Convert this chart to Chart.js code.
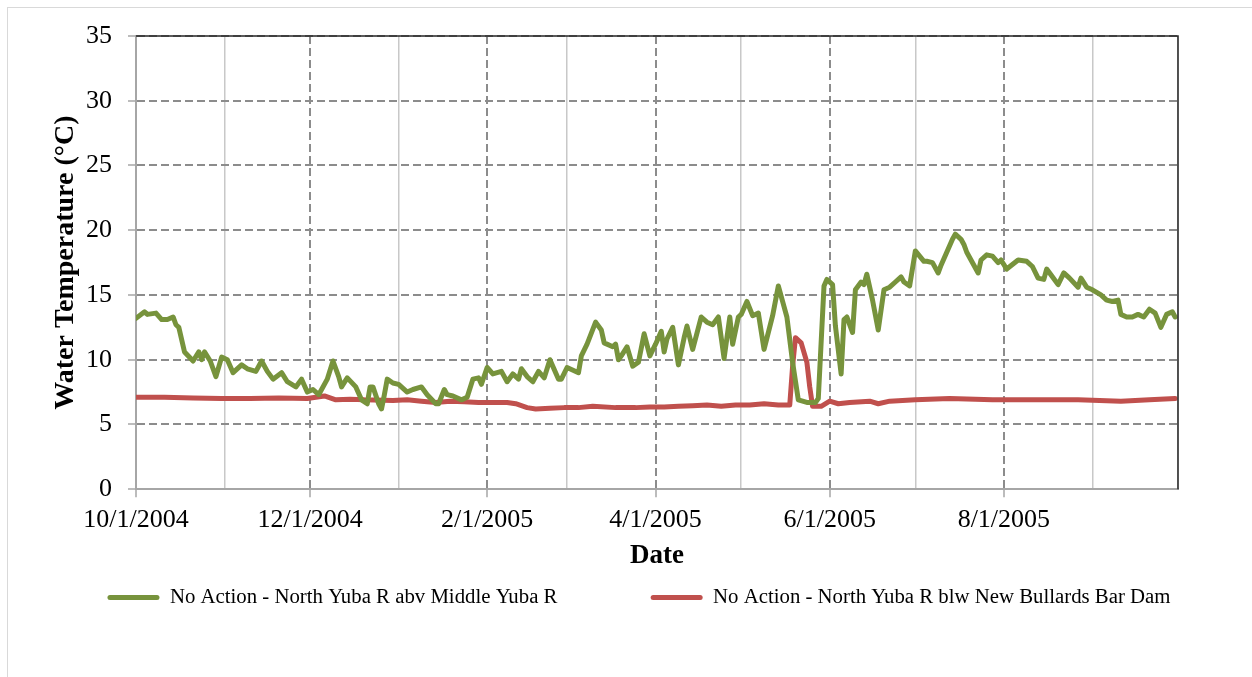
<!DOCTYPE html>
<html>
<head>
<meta charset="utf-8">
<title>Water Temperature</title>
<script src="https://cdn.jsdelivr.net/npm/chart.js@4.4.0/dist/chart.umd.min.js"></script>
<style>
    html, body { margin: 0; padding: 0; background: #fff; overflow: hidden; }
    #frame { position: absolute; left: 7px; top: 7px; width: 1300px; height: 720px; border: 1px solid #d9d9d9; }
    #tempChart { position: absolute; left: 0; top: 0; }
</style>
</head>
<body>
<div id="frame"></div>
<canvas id="tempChart" width="1252" height="677"></canvas>
<script>
// x values are days counted from 10/1/2004
var monthStarts = [0, 31, 61, 92, 123, 151, 182, 212, 243, 273, 304, 335, 365];
var labelDays = [0, 61, 123, 182, 243, 304];
var tickLabels = ['10/1/2004', '12/1/2004', '2/1/2005', '4/1/2005', '6/1/2005', '8/1/2005'];

var seriesNames = [
    'No Action - North Yuba R abv Middle Yuba R',
    'No Action - North Yuba R blw New Bullards Bar Dam'
];

// North Yuba R abv Middle Yuba R
var greenDays = [
    0, 3, 4, 7, 9, 11, 13, 14, 15, 17, 20, 22, 23, 24, 26, 28, 30, 32, 34, 37,
    39, 42, 44, 46, 48, 51, 53, 56, 58, 60, 62, 64, 67, 69, 71, 72, 74, 77, 79, 81,
    82, 83, 85, 86, 87, 88, 90, 92, 95, 97, 100, 102, 105, 106, 108, 109, 111, 114, 116, 118,
    120, 121, 123, 125, 128, 130, 132, 134, 135, 137, 139, 141, 143, 145, 148, 149, 151, 155, 156, 158,
    161, 163, 164, 167, 168, 169, 170, 172, 174, 176, 178, 180, 182, 184, 185, 186, 188, 190, 192, 193,
    195, 198, 200, 202, 204, 206, 208, 209, 211, 212, 214, 216, 218, 220, 223, 225, 227, 228, 230, 232,
    235, 238, 239, 241, 242, 244, 245, 247, 248, 249, 251, 252, 254, 255, 256, 258, 260, 262, 264, 266,
    268, 269, 271, 273, 276, 277, 279, 281, 282, 284, 286, 287, 289, 290, 291, 295, 296, 298, 300, 302,
    303, 305, 309, 312, 314, 316, 318, 319, 321, 323, 325, 327, 330, 331, 333, 335, 338, 340, 342, 344,
    345, 347, 349, 351, 353, 355, 357, 359, 361, 363, 364
];
var greenTemps = [
    13.2, 13.7, 13.5, 13.6, 13.1, 13.1, 13.3, 12.7, 12.5, 10.6, 9.9, 10.6, 10.0, 10.6, 9.9, 8.7, 10.2, 10.0, 9.0, 9.6,
    9.3, 9.1, 9.9, 9.1, 8.5, 9.0, 8.3, 7.9, 8.5, 7.5, 7.7, 7.3, 8.5, 9.9, 8.7, 7.9, 8.6, 7.9, 6.9, 6.6,
    7.9, 7.9, 6.6, 6.2, 7.3, 8.5, 8.2, 8.1, 7.5, 7.7, 7.9, 7.3, 6.6, 6.6, 7.7, 7.3, 7.2, 6.9, 7.1, 8.5,
    8.6, 8.1, 9.4, 8.9, 9.1, 8.3, 8.9, 8.5, 9.3, 8.7, 8.3, 9.1, 8.6, 10.0, 8.5, 8.5, 9.4, 9.0, 10.3, 11.2,
    12.9, 12.3, 11.3, 11.0, 11.2, 10.0, 10.3, 11.0, 9.5, 9.8, 12.0, 10.3, 11.2, 12.2, 10.6, 11.6, 12.5, 9.6, 11.7, 12.6,
    10.8, 13.3, 12.9, 12.7, 13.3, 10.1, 13.3, 11.2, 13.3, 13.5, 14.5, 13.4, 13.6, 10.8, 13.4, 15.7, 14.1, 13.3, 9.8, 6.9,
    6.7, 6.7, 7.0, 15.7, 16.2, 15.8, 12.6, 8.9, 13.1, 13.3, 12.1, 15.4, 16.0, 15.8, 16.6, 14.6, 12.3, 15.4, 15.6, 16.0,
    16.4, 16.0, 15.7, 18.4, 17.6, 17.6, 17.5, 16.7, 17.3, 18.3, 19.3, 19.7, 19.3, 18.9, 18.3, 16.7, 17.7, 18.1, 18.0, 17.5,
    17.7, 17.0, 17.7, 17.6, 17.2, 16.3, 16.2, 17.0, 16.4, 15.8, 16.7, 16.3, 15.6, 16.3, 15.6, 15.4, 15.0, 14.6, 14.5, 14.6,
    13.5, 13.3, 13.3, 13.5, 13.3, 13.9, 13.6, 12.5, 13.5, 13.7, 13.3
];

// North Yuba R blw New Bullards Bar Dam
var redDays = [
    0, 10, 20, 30, 40, 50, 60, 66, 70, 75, 80, 90, 95, 100, 105, 110, 115, 120, 130, 133,
    137, 140, 145, 150, 155, 160, 168, 175, 180, 185, 190, 195, 200, 205, 210, 215, 220, 225, 229, 230,
    231, 233, 235, 236, 237, 240, 243, 246, 250, 257, 260, 264, 273, 285, 300, 315, 330, 345, 355, 364
];
var redTemps = [
    7.1, 7.1, 7.05, 7.0, 7.0, 7.05, 7.0, 7.2, 6.9, 6.95, 6.9, 6.85, 6.9, 6.8, 6.7, 6.8, 6.75, 6.7, 6.7, 6.6,
    6.3, 6.2, 6.25, 6.3, 6.3, 6.4, 6.3, 6.3, 6.35, 6.35, 6.4, 6.45, 6.5, 6.4, 6.5, 6.5, 6.6, 6.5, 6.5, 9.5,
    11.7, 11.3, 9.8, 7.9, 6.4, 6.4, 6.8, 6.6, 6.7, 6.8, 6.6, 6.8, 6.9, 7.0, 6.9, 6.9, 6.9, 6.8, 6.9, 7.0
];

var greenColor = '#77933C';
var redColor = '#C0504D';
var serif = "'Liberation Serif', 'Times New Roman', serif";

function toPoints(days, temps) {
    return days.map(function(d, i) { return { x: d, y: temps[i] }; });
}

function isMajor(ctx) {
    return ctx.tick !== undefined && labelDays.indexOf(ctx.tick.value) >= 0;
}

// dark frame on the top and right of the plot area
var plotFrame = {
    id: 'plotFrame',
    afterDatasetsDraw: function(chart) {
        var a = chart.chartArea, c = chart.ctx;
        c.save();
        c.strokeStyle = '#262626';
        c.lineWidth = 1.5;
        c.beginPath();
        c.moveTo(a.left, a.top);
        c.lineTo(a.right, a.top);
        c.lineTo(a.right, a.bottom);
        c.stroke();
        c.restore();
    }
};

Chart.defaults.font.family = serif;
Chart.defaults.color = '#000';

var ctx = document.getElementById('tempChart').getContext('2d');
var tempChart = new Chart(ctx, {
    type: 'line',
    data: {
        datasets: [
            {
                label: seriesNames[0],
                data: toPoints(greenDays, greenTemps),
                borderColor: greenColor,
                backgroundColor: greenColor,
                borderWidth: 5,
                pointRadius: 0,
                tension: 0,
                borderCapStyle: 'round',
                borderJoinStyle: 'round'
            },
            {
                label: seriesNames[1],
                data: toPoints(redDays, redTemps),
                borderColor: redColor,
                backgroundColor: redColor,
                borderWidth: 5,
                pointRadius: 0,
                tension: 0,
                borderCapStyle: 'round',
                borderJoinStyle: 'round'
            }
        ]
    },
    options: {
        responsive: false,
        animation: false,
        layout: { padding: { left: 36, top: 36, right: 10, bottom: 59 } },
        plugins: {
            legend: {
                position: 'bottom',
                labels: {
                    boxWidth: 52,
                    boxHeight: 5,
                    padding: 10,
                    useBorderRadius: true,
                    borderRadius: 2.5,
                    color: '#000',
                    font: { size: 20.8 },
                    generateLabels: function(chart) {
                        var items = Chart.defaults.plugins.legend.labels.generateLabels(chart);
                        items.forEach(function(item, i) {
                            item.lineWidth = 0;
                            // wider gap after the first entry, as in the original layout
                            if (i === 0) item.text = item.text + '\u2003\u2003\u2003\u2003';
                        });
                        return items;
                    }
                }
            },
            tooltip: { enabled: false }
        },
        scales: {
            x: {
                type: 'linear',
                min: 0,
                max: 365,
                afterBuildTicks: function(scale) {
                    scale.ticks = monthStarts.map(function(v) { return { value: v }; });
                },
                afterFit: function(scale) { scale.height = 88; },
                ticks: {
                    autoSkip: false,
                    maxRotation: 0,
                    padding: 7,
                    font: { size: 26 },
                    callback: function(value) {
                        var i = labelDays.indexOf(value);
                        return i >= 0 ? tickLabels[i] : '';
                    }
                },
                grid: {
                    color: function(c) { return isMajor(c) ? '#8c8c8c' : '#c8c8c8'; },
                    lineWidth: function(c) { return isMajor(c) ? 2 : 1.5; },
                    tickLength: 8,
                    tickWidth: 1.5,
                    tickColor: function(c) { return isMajor(c) ? '#a6a6a6' : 'rgba(0,0,0,0)'; },
                    tickBorderDash: []
                },
                border: {
                    color: '#a6a6a6',
                    width: 2,
                    dash: function(c) { return isMajor(c) ? [8, 4] : []; }
                },
                title: {
                    display: true,
                    text: 'Date',
                    font: { size: 27, weight: 'bold' },
                    padding: { top: 0, bottom: 5 }
                }
            },
            y: {
                min: 0,
                max: 35,
                afterFit: function(scale) { scale.width = 100; },
                ticks: {
                    stepSize: 5,
                    padding: 16,
                    font: { size: 26 }
                },
                grid: {
                    color: '#8c8c8c',
                    lineWidth: 2,
                    tickLength: 8,
                    tickWidth: 1.5,
                    tickColor: '#a6a6a6',
                    tickBorderDash: []
                },
                border: { color: '#a6a6a6', width: 2, dash: [8, 4] },
                title: {
                    display: true,
                    text: 'Water Temperature (°C)',
                    font: { size: 28, weight: 'bold' },
                    padding: { top: 13, bottom: 0 }
                }
            },
            // empty right-hand axis that only keeps the plot clear of the right margin
            spacer: {
                type: 'linear',
                position: 'right',
                afterFit: function(scale) { scale.width = 64; },
                ticks: { display: false },
                grid: { display: false },
                border: { display: false }
            }
        }
    },
    plugins: [plotFrame]
});
</script>
</body>
</html>
